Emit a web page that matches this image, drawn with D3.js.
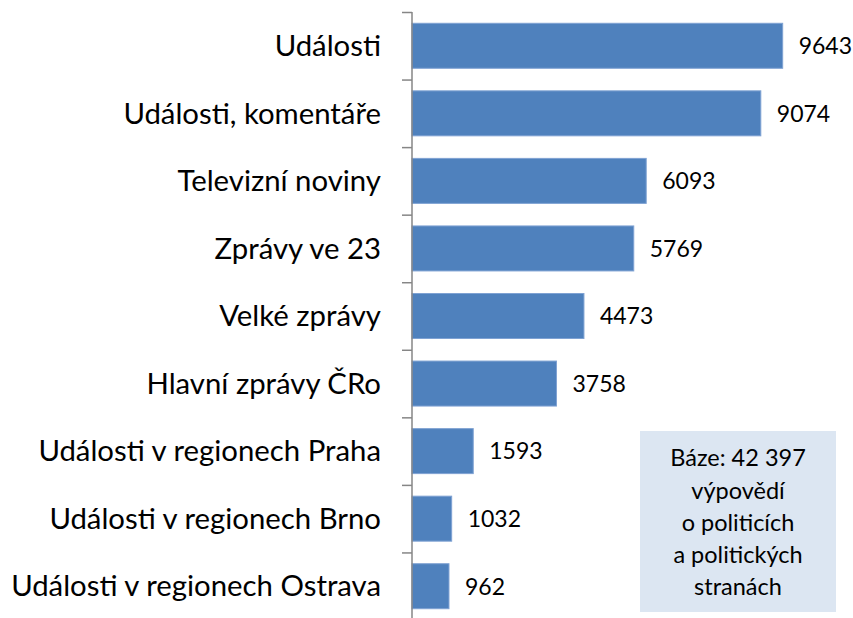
<!DOCTYPE html>
<html>
<head>
<meta charset="utf-8">
<script src="https://cdn.jsdelivr.net/npm/d3@7"></script>
<style>
  html, body { margin: 0; padding: 0; background: #fff; }
  svg { display: block; }
  text { font-family: Lato, "Open Sans", sans-serif; fill: #000; }
</style>
</head>
<body>
<svg id="chart" width="853" height="618"></svg>
<script>
const categories = [
  "Události",
  "Události, komentáře",
  "Televizní noviny",
  "Zprávy ve 23",
  "Velké zprávy",
  "Hlavní zprávy ČRo",
  "Události v regionech Praha",
  "Události v regionech Brno",
  "Události v regionech Ostrava"
];
const values = [9643, 9074, 6093, 5769, 4473, 3758, 1593, 1032, 962];
const noteLines = ["Báze: 42 397", "výpovědí", "o politicích", "a politických", "stranách"];

const svg = d3.select("#chart");
const axisX = 412, plotTop = 12, plotBottom = 620;

const y = d3.scaleBand().domain(categories).range([plotTop, plotBottom])
  .paddingInner(0.334).paddingOuter(0.167);
const x = d3.scaleLinear().domain([0, 10000]).range([axisX, axisX + 384.4]);

// bars
svg.append("g").selectAll("rect").data(values).join("rect")
  .attr("x", x(0))
  .attr("y", (d, i) => y(categories[i]))
  .attr("width", d => x(d) - x(0))
  .attr("height", y.bandwidth())
  .attr("fill", "#4f81bd")
  .attr("stroke", "#7fa2d3")
  .attr("stroke-width", 1);

// axis with ticks at category boundaries
const idx = d3.scaleLinear().domain([0, categories.length]).range([plotTop, plotBottom]);
const axisG = svg.append("g").attr("transform", `translate(${axisX},0)`)
  .call(d3.axisLeft(idx).tickValues(d3.range(categories.length + 1)).tickSize(10).tickFormat(""));
axisG.select(".domain").attr("stroke", "#868686").attr("stroke-width", 1.5).attr("d", `M0,${plotTop}V${plotBottom}`);
axisG.selectAll(".tick line").attr("stroke", "#868686").attr("stroke-width", 1.5);

// category labels
const catG = svg.append("g");
const catText = catG.selectAll("text").data(categories).join("text")
  .attr("x", 381)
  .attr("y", d => y(d) + y.bandwidth() / 2)
  .attr("dy", "0.35em")
  .attr("text-anchor", "end")
  .style("font-size", "26px")
  .text(d => d);
// fit the longest label to the reference width
let maxW = 0;
catText.each(function () { maxW = Math.max(maxW, this.getComputedTextLength()); });
const catSize = 26 * 370 / maxW;
catText.style("font-size", catSize.toFixed(2) + "px");

// value labels
svg.append("g").selectAll("text").data(values).join("text")
  .attr("x", d => x(d) + 16)
  .attr("y", (d, i) => y(categories[i]) + y.bandwidth() / 2)
  .attr("dy", "0.36em")
  .style("font-size", "23px")
  .text(d => d);

// note box
const box = svg.append("g");
box.append("rect")
  .attr("x", 640).attr("y", 431).attr("width", 196).attr("height", 181)
  .attr("fill", "#dce6f2");
box.selectAll("text").data(noteLines).join("text")
  .attr("x", 738)
  .attr("y", (d, i) => 458 + i * 32.3)
  .attr("dy", "0.35em")
  .attr("text-anchor", "middle")
  .style("font-size", "23.5px")
  .text(d => d);
</script>
</body>
</html>
